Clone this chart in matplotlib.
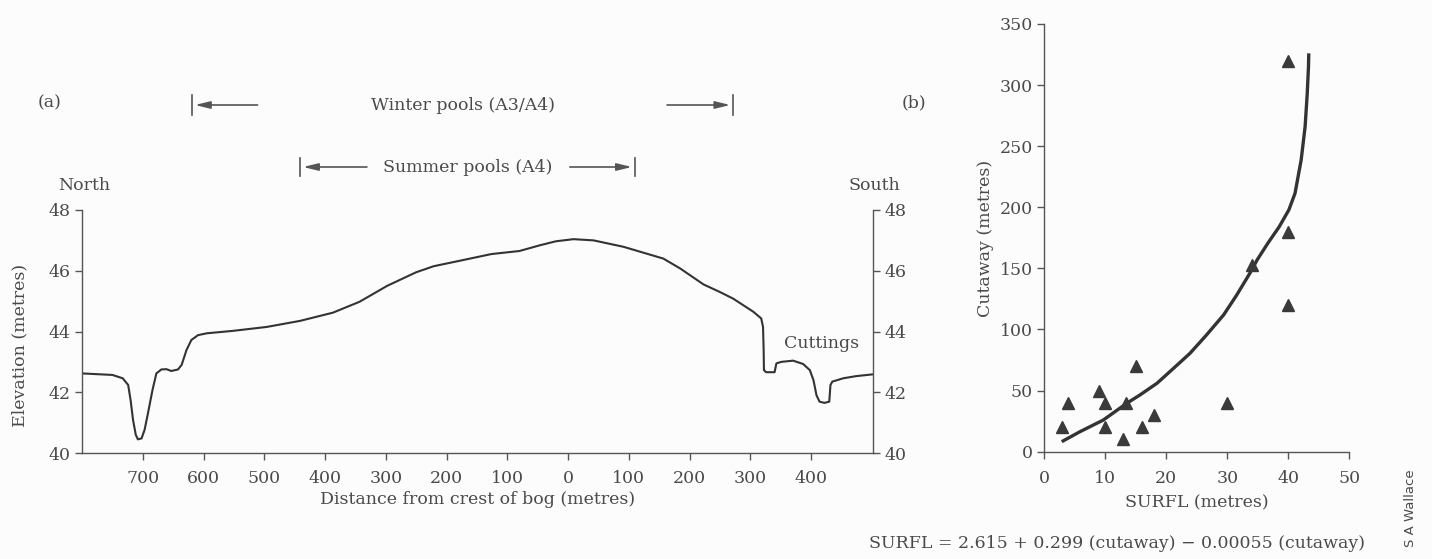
import matplotlib
matplotlib.use("Agg")
import matplotlib.pyplot as plt
from matplotlib import transforms

plt.rcParams['font.family'] = ['DejaVu Serif', 'DejaVu Sans']

# ---------------- data: panel (a) bog profile ----------------
# distance from crest (north negative, south positive), elevation in metres
profile_dist = [-800, -750, -733, -724, -720, -716, -711.5, -708, -702, -697, -691.5, -684,
                -677.6, -669.4, -661, -653, -642, -636, -628, -620, -609, -595, -552, -496,
                -441, -387, -343, -298, -250, -221, -178, -126, -80, -46, -20, 9, 42, 91,
                157, 185, 223, 250, 272, 305, 318, 321, 322, 322.5, 326, 340, 343, 351,
                370.5, 387, 398, 404, 409, 414, 422, 430, 432, 435, 453, 474, 502]
profile_elev = [42.62, 42.57, 42.46, 42.24, 41.74, 41.09, 40.6, 40.45, 40.48, 40.76, 41.3, 42.07,
                42.62, 42.75, 42.76, 42.7, 42.75, 42.9, 43.39, 43.72, 43.88, 43.94, 44.02, 44.15,
                44.35, 44.62, 44.98, 45.5, 45.95, 46.15, 46.33, 46.55, 46.65, 46.84, 46.97, 47.04, 47.0, 46.79,
                46.4, 46.07, 45.55, 45.3, 45.08, 44.65, 44.43, 44.15, 43.39, 42.73, 42.66, 42.66, 42.95, 43.0,
                43.04, 42.93, 42.73, 42.4, 41.9, 41.69, 41.65, 41.69, 42.24, 42.35, 42.46, 42.53, 42.59]
dist_ticks = [-700, -600, -500, -400, -300, -200, -100, 0, 100, 200, 300, 400]
dist_tick_labels = ['700', '600', '500', '400', '300', '200', '100', '0', '100', '200', '300', '400']
elev_ticks = [40, 42, 44, 46, 48]

# pool extents (distance from crest)
winter_extent = [-619, 272]
summer_extent = [-441, 110]

# ---------------- data: panel (b) scatter ----------------
surfl = [3, 4, 9, 10, 10, 13, 13.5, 15, 16, 18, 30, 34, 40, 40, 40]
cutaway = [20, 40, 50, 40, 20, 10, 40, 70, 20, 30, 40, 153, 120, 180, 320]
# fitted curve
curve_surfl = [2.9, 5.9, 9.7, 13.55, 15.7, 18.5, 21.2, 23.9, 26.6, 29.4, 31.55, 33.7,
               34.9, 36.7, 38.5, 40.1, 41.1, 42.1, 42.75, 43.1, 43.3, 43.35]
curve_cut = [8.2, 16.4, 25.9, 39.6, 46.4, 56, 68.2, 80.5, 95.5, 111.9, 128.2, 146,
             157, 171, 184, 198, 211.5, 238.7, 266, 293.3, 315, 326]
surfl_ticks = [0, 10, 20, 30, 40, 50]
cut_ticks = [0, 50, 100, 150, 200, 250, 300, 350]

TXT = '#4a4a4a'
AX = '#555555'
LINE = '#333333'
FS = 12.5

W, H = 1432, 559
fig = plt.figure(figsize=(W / 100, H / 100), dpi=100, facecolor='#fcfcfc')

def fx(px):
    return px / W

def fy(py):
    return 1 - py / H

# ---------------- panel (a) ----------------
axa = fig.add_axes([fx(82), fy(453), fx(873) - fx(82), fy(210) - fy(453)])
axa.set_facecolor('none')
axa.plot(profile_dist, profile_elev, color=LINE, lw=1.5, solid_joinstyle='round')
axa.set_xlim(-800, 502)
axa.set_ylim(40, 48)
axa.set_xticks(dist_ticks)
axa.set_xticklabels(dist_tick_labels)
axa.set_yticks(elev_ticks)
axa.spines['top'].set_visible(False)
for s in ['left', 'bottom', 'right']:
    axa.spines[s].set_color(AX)
    axa.spines[s].set_linewidth(1.0)
axa.tick_params(axis='both', direction='out', length=5, width=1, color=AX,
                labelcolor=TXT, labelsize=FS, pad=3)
axa.tick_params(axis='x', pad=7)
axa.tick_params(axis='y', right=True, labelright=True)
axa.set_xlabel('Distance from crest of bog (metres)', color=TXT, fontsize=FS, labelpad=0)
axa.xaxis.set_label_coords(0.5, -0.155)

fig.text(fx(20), fy(345), 'Elevation (metres)', rotation=90, ha='center', va='center',
         color=TXT, fontsize=FS)

fig.text(fx(50), fy(103), '(a)', ha='center', va='center', color=TXT, fontsize=FS)
fig.text(fx(84), fy(186), 'North', ha='center', va='center', color=TXT, fontsize=FS)
fig.text(fx(874), fy(186), 'South', ha='center', va='center', color=TXT, fontsize=FS)
fig.text(fx(822), fy(343), 'Cuttings', ha='center', va='center', color=TXT, fontsize=FS)

trans = transforms.blended_transform_factory(axa.transData, fig.transFigure)

def span_arrow(extent, yc, text, text_center, gap_l, gap_r, bar_h):
    x0, x1 = extent
    for x in (x0, x1):
        fig.add_artist(plt.Line2D([x, x], [yc - bar_h, yc + bar_h], transform=trans,
                                  color=AX, lw=1.2))
    fig.text(text_center, yc, text, transform=trans, ha='center', va='center',
             color=TXT, fontsize=FS)
    ap = dict(arrowstyle='-|>,head_length=0.9,head_width=0.22', color=AX, lw=1.2,
              shrinkA=0, shrinkB=0)
    axa.annotate('', xy=(x0 + 5, yc), xytext=(gap_l, yc), xycoords=trans,
                 textcoords=trans, arrowprops=ap, annotation_clip=False)
    axa.annotate('', xy=(x1 - 5, yc), xytext=(gap_r, yc), xycoords=trans,
                 textcoords=trans, arrowprops=ap, annotation_clip=False)

span_arrow(winter_extent, fy(105), 'Winter pools (A3/A4)', -173, -511, 163, 0.017)
span_arrow(summer_extent, fy(167), 'Summer pools (A4)', -165, -331, 3, 0.016)

# ---------------- panel (b) ----------------
axb = fig.add_axes([fx(1044), fy(451.7), fx(1349.4) - fx(1044), fy(24) - fy(451.7)])
axb.set_facecolor('none')
axb.plot(curve_surfl, curve_cut, color=LINE, lw=2.4, solid_capstyle='butt',
         solid_joinstyle='round')
axb.plot(surfl, cutaway, linestyle='none', marker='^', markersize=8.5, color='#3a3a3a')
axb.set_xlim(0, 50)
axb.set_ylim(0, 350)
axb.set_xticks(surfl_ticks)
axb.set_yticks(cut_ticks)
for s in ['top', 'right']:
    axb.spines[s].set_visible(False)
for s in ['left', 'bottom']:
    axb.spines[s].set_color(AX)
    axb.spines[s].set_linewidth(1.0)
axb.tick_params(axis='both', direction='out', length=5, width=1, color=AX,
                labelcolor=TXT, labelsize=FS, pad=3)
axb.tick_params(axis='x', pad=8)
axb.set_xlabel('SURFL (metres)', color=TXT, fontsize=FS)
axb.xaxis.set_label_coords(0.5, -0.1)
fig.text(fx(985), fy(238), 'Cutaway (metres)', rotation=90, ha='center', va='center',
         color=TXT, fontsize=FS)
fig.text(fx(914), fy(103), '(b)', ha='center', va='center', color=TXT, fontsize=FS)

fig.text(fx(1117), fy(543), 'SURFL = 2.615 + 0.299 (cutaway) \u2212 0.00055 (cutaway)',
         ha='center', va='center', color=TXT, fontsize=FS)
fig.text(fx(1410), fy(508), 'S A Wallace', rotation=90, ha='center', va='center',
         color=TXT, fontsize=9.5, family=['DejaVu Sans'])

fig.savefig('out.png', dpi=100, facecolor=fig.get_facecolor())
